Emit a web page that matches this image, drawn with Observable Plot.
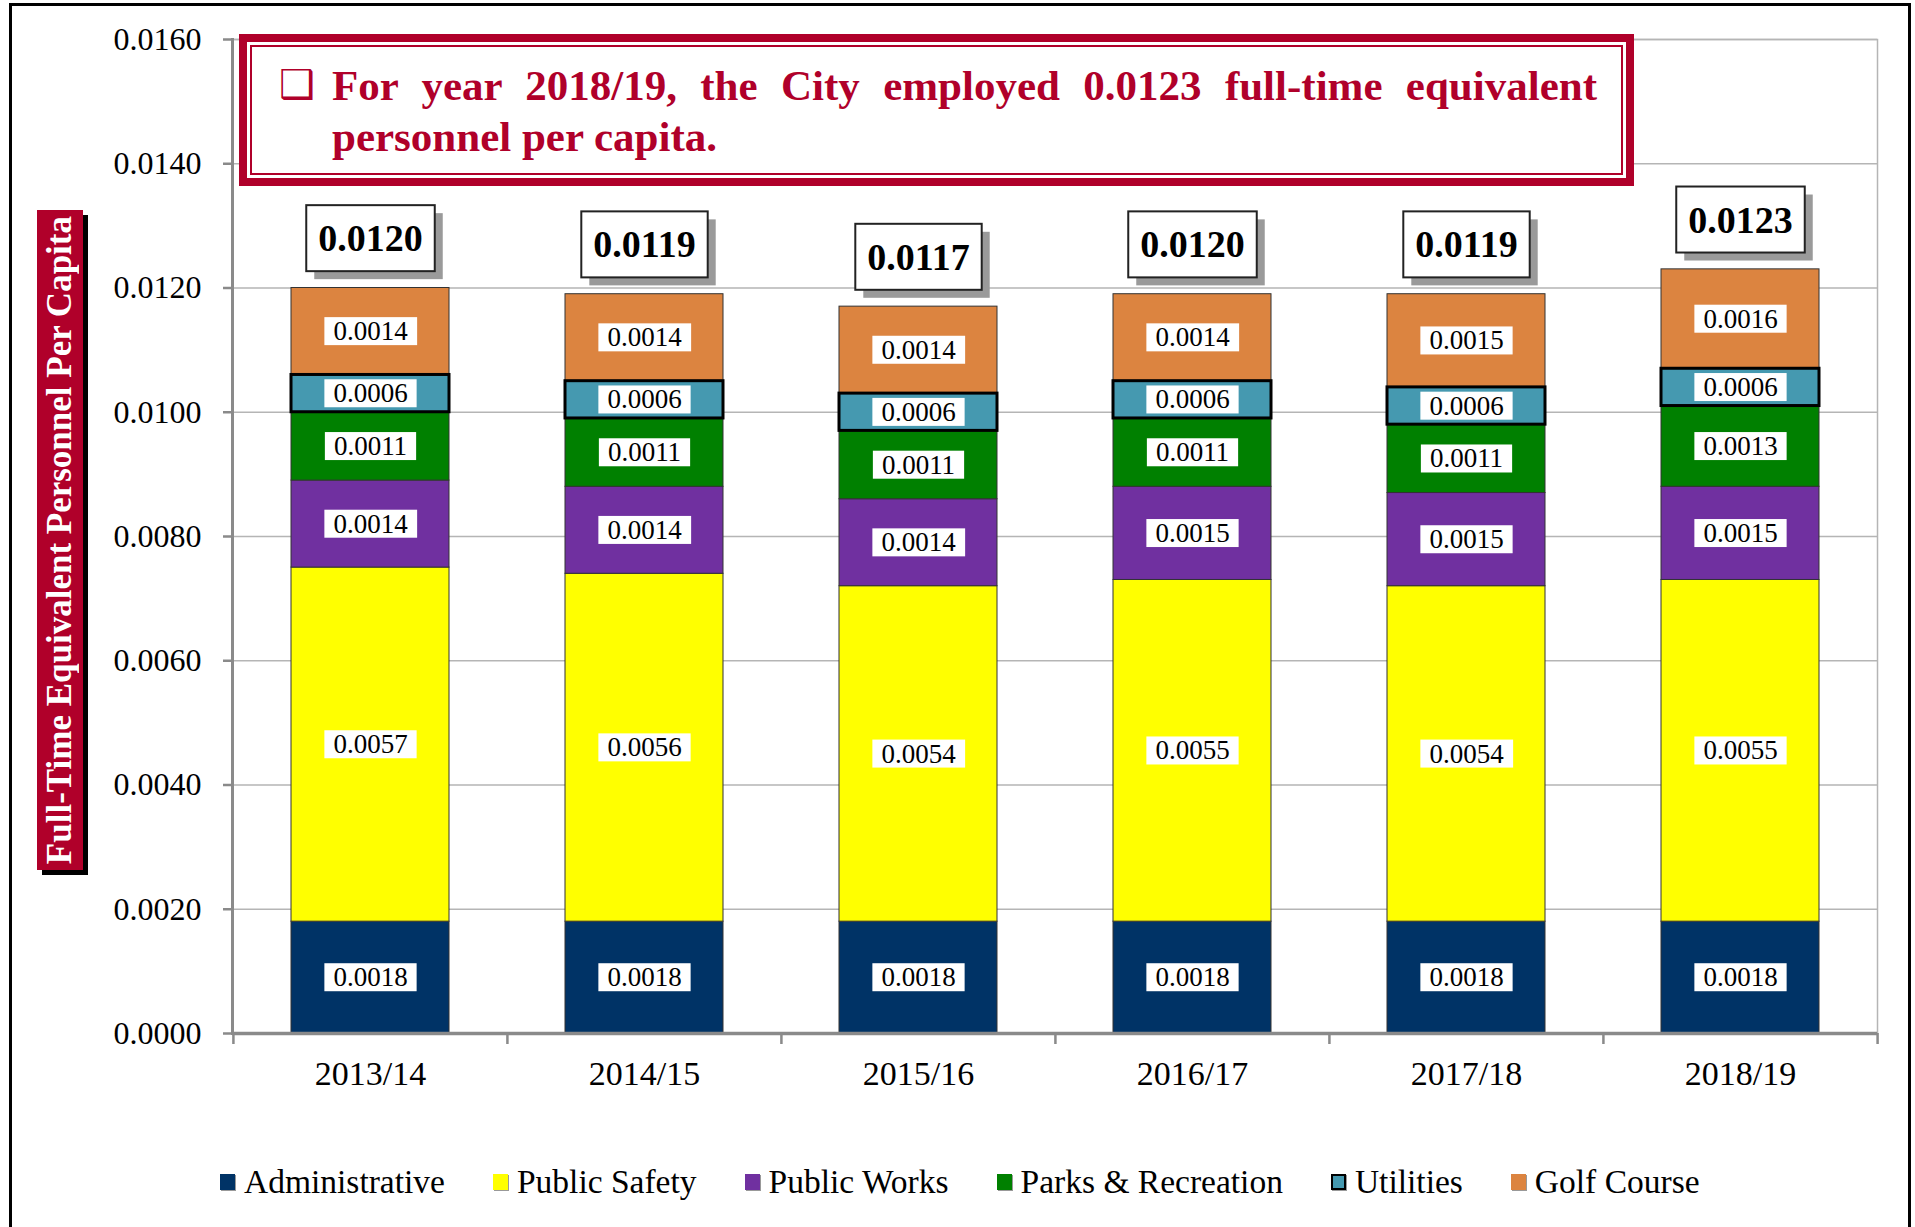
<!DOCTYPE html>
<html><head><meta charset="utf-8">
<script src="https://cdn.jsdelivr.net/npm/d3@7"></script>
<script src="https://cdn.jsdelivr.net/npm/@observablehq/plot@0.6"></script>
<style>
html,body{margin:0;padding:0;background:#fff;overflow:hidden;}
#wrap{position:relative;width:1915px;height:1227px;font-family:'Liberation Serif','Times New Roman',serif;}
#frame{position:absolute;left:9px;top:3px;width:1896px;height:1300px;border:3px solid #000;border-bottom:none;}
#chart{position:absolute;left:0;top:0;}
#titlebox{position:absolute;left:239px;top:34px;width:1395px;height:152px;box-sizing:border-box;border:8px solid #B0002A;background:#fff;}
#titleinner{position:absolute;left:3px;top:3px;right:3px;bottom:3px;border:2px solid #B0002A;}
#titletext{position:absolute;left:332px;top:60px;width:1265px;color:#B0002A;font-weight:bold;font-size:43px;line-height:51px;}
#titletext .l1{text-align:justify;text-align-last:justify;white-space:nowrap;}
#titletext .l2{text-align:left;}
#check{position:absolute;left:279px;top:64px;color:#B0002A;font-family:'DejaVu Sans',sans-serif;font-weight:bold;font-size:40px;line-height:40px;}
#ytitle{position:absolute;left:37px;top:210px;width:46px;height:660px;background:#B0002A;box-shadow:5px 5px 0 #000;display:flex;align-items:center;justify-content:center;}
#ytitle span{writing-mode:vertical-rl;transform:rotate(180deg);color:#fff;font-weight:bold;font-size:35px;white-space:nowrap;}
#legend{position:absolute;left:220px;top:1162px;height:40px;display:flex;align-items:center;gap:48px;font-size:33.5px;}
#legend .item{display:flex;align-items:center;gap:9px;}
#legend .sw{width:15px;height:16px;box-shadow:1px 1px 0 #999;box-sizing:border-box;}
</style></head>
<body><div id="wrap">
<div id="frame"></div>
<div id="chart"></div>
<div id="titlebox"><div id="titleinner"></div></div>
<div id="check">❑</div>
<div id="titletext"><div class="l1">For year 2018/19, the City employed 0.0123 full-time equivalent</div><div class="l2">personnel per capita.</div></div>
<div id="ytitle"><span>Full-Time Equivalent Personnel Per Capita</span></div>
<div id="legend"></div>
</div>
<script>
const years = ["2013/14", "2014/15", "2015/16", "2016/17", "2017/18", "2018/19"];
const categories = ["Administrative", "Public Safety", "Public Works", "Parks & Recreation", "Utilities", "Golf Course"];
const administrative = [0.0018, 0.0018, 0.0018, 0.0018, 0.0018, 0.0018];
const publicSafety = [0.0057, 0.0056, 0.0054, 0.0055, 0.0054, 0.0055];
const publicWorks = [0.0014, 0.0014, 0.0014, 0.0015, 0.0015, 0.0015];
const parksRecreation = [0.0011, 0.0011, 0.0011, 0.0011, 0.0011, 0.0013];
const utilities = [0.0006, 0.0006, 0.0006, 0.0006, 0.0006, 0.0006];
const golfCourse = [0.0014, 0.0014, 0.0014, 0.0014, 0.0015, 0.0016];
const totalLabels = ["0.0120", "0.0119", "0.0117", "0.0120", "0.0119", "0.0123"];
const yTicks = [0, 0.002, 0.004, 0.006, 0.008, 0.010, 0.012, 0.014, 0.016];
const colors = ["#003366", "#FFFF00", "#7030A0", "#008000", "#4599B0", "#DC8440"];

const series = [administrative, publicSafety, publicWorks, parksRecreation, utilities, golfCourse];
const rows = [];
categories.forEach((c, ci) => years.forEach((y, yi) => rows.push({year: y, category: c, value: series[ci][yi]})));
const totals = years.map((y, yi) => ({year: y, total: d3.sum(series, s => s[yi]), label: totalLabels[yi]}));

const W = 1915, H = 1130, mL = 232, mR = 38, mT = 39, mB = 97;
const step = (W - mL - mR) / years.length;
const axisGray = "#8a8a8a";
const SEG_FS = 27, TOT_FS = 38;

const chart = Plot.plot({
  width: W, height: H,
  marginLeft: mL, marginRight: mR, marginTop: mT, marginBottom: mB,
  style: {fontFamily: "'Liberation Serif','Times New Roman',serif", background: "transparent", color: "#000", overflow: "visible"},
  x: {domain: years, paddingInner: 0.425, paddingOuter: 0.2125, axis: null},
  y: {domain: [0, 0.016], axis: null},
  color: {domain: categories, range: colors},
  marks: [
    Plot.gridY(yTicks, {stroke: "#b5b5b5", strokeOpacity: 1, strokeWidth: 1.5}),
    Plot.frame({stroke: "#b5b5b5", strokeWidth: 1.5}),
    Plot.barY(rows, Plot.stackY({x: "year", y: "value", fill: "category", stroke: "#333", strokeWidth: 1})),
    Plot.barY(rows, Plot.filter(d => d.category === "Utilities", Plot.stackY({x: "year", y: "value", fill: "none", stroke: "#000", strokeWidth: 3}))),
    Plot.text(rows, Plot.stackY({x: "year", y: "value", text: d => d.value.toFixed(4), fontSize: SEG_FS, fill: "#000"})),
    Plot.text(totals, {x: "year", y: "total", text: "label", dy: -49, fontSize: TOT_FS, fontWeight: "bold", fill: "#000"}),
    Plot.axisY(yTicks, {tickFormat: d => d.toFixed(4), fontSize: 32, tickSize: 9, tickPadding: 22, stroke: axisGray, strokeWidth: 2.5, fill: "#000", label: null}),
    Plot.axisX(years, {tickSize: 0, tickPadding: 27, fontSize: 34, fill: "#000", label: null}),
    Plot.axisX(years, {tickSize: 11, tickFormat: () => "", dx: -step / 2, stroke: axisGray, strokeWidth: 2.5, label: null}),
    Plot.axisX([years[years.length - 1]], {tickSize: 11, tickFormat: () => "", dx: step / 2, stroke: axisGray, strokeWidth: 2.5, label: null}),
    Plot.ruleY([0], {stroke: axisGray, strokeWidth: 3.5}),
    Plot.frame({anchor: "left", stroke: axisGray, strokeWidth: 3})
  ]
});
document.getElementById("chart").appendChild(chart);

const NS = "http://www.w3.org/2000/svg";
const svgBox = chart.getBoundingClientRect();
function findGroup(fs) {
  return Array.from(chart.querySelectorAll("g")).find(g => g.querySelector("text") && String(g.getAttribute("font-size")) === String(fs));
}
function boxLabels(fs, opts) {
  const g = findGroup(fs);
  if (!g) return;
  const layer = document.createElementNS(NS, "g");
  g.parentNode.insertBefore(layer, g);
  g.querySelectorAll("text").forEach(t => {
    const b = t.getBoundingClientRect();
    const x = b.left - svgBox.left, cy = b.top - svgBox.top + b.height / 2;
    const w = b.width + 2 * opts.padX, h = opts.h;
    if (opts.shadow) {
      const s = document.createElementNS(NS, "rect");
      s.setAttribute("x", x - opts.padX + opts.shadow);
      s.setAttribute("y", cy - h / 2 + opts.shadow);
      s.setAttribute("width", w); s.setAttribute("height", h);
      s.setAttribute("fill", "#9a9a9a");
      layer.appendChild(s);
    }
    const r = document.createElementNS(NS, "rect");
    r.setAttribute("x", x - opts.padX);
    r.setAttribute("y", cy - h / 2);
    r.setAttribute("width", w); r.setAttribute("height", h);
    r.setAttribute("fill", "#fff");
    if (opts.stroke) { r.setAttribute("stroke", opts.stroke); r.setAttribute("stroke-width", opts.strokeWidth); }
    layer.appendChild(r);
  });
}
boxLabels(SEG_FS, {padX: 9, h: 28});
boxLabels(TOT_FS, {padX: 12, h: 66, shadow: 8, stroke: "#222", strokeWidth: 2});

const legend = document.getElementById("legend");
categories.forEach((c, i) => {
  const item = document.createElement("div");
  item.className = "item";
  const sw = document.createElement("div");
  sw.className = "sw";
  sw.style.background = colors[i];
  if (c === "Utilities") sw.style.border = "2px solid #000";
  const tx = document.createElement("span");
  tx.textContent = c;
  item.appendChild(sw); item.appendChild(tx);
  legend.appendChild(item);
});
</script>
</body></html>
